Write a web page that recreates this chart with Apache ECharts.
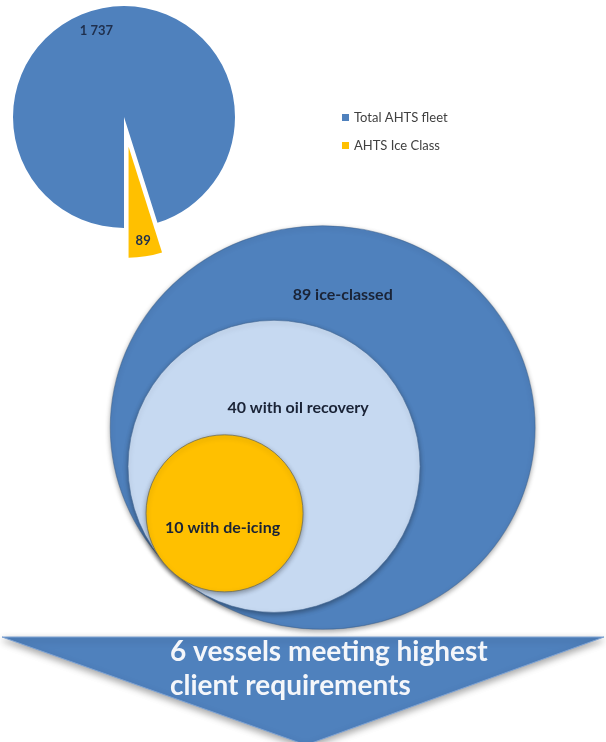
<!DOCTYPE html>
<html>
<head>
<meta charset="utf-8">
<script src="https://cdn.jsdelivr.net/npm/echarts@6/dist/echarts.min.js"></script>
<style>
  html, body { margin: 0; padding: 0; background: #ffffff; }
  #chart { width: 606px; height: 742px; }
</style>
</head>
<body>
<div id="chart"></div>
<script>
// AHTS fleet split shown in the pie
const fleetNames = ['Total AHTS fleet', 'AHTS Ice Class'];
const fleetValues = [1737, 89];

// Nested capability circles, outer to inner
const stageNames = ['ice-classed', 'with oil recovery', 'with de-icing'];
const stageValues = [89, 40, 10];

// Vessels that meet every requirement
const finalCount = 6;
const finalLines = ['vessels meeting highest', 'client requirements'];

const W = 606, H = 742;
const BLUE = '#4F81BD';
const LIGHT = '#C6D9F1';
const YELLOW = '#FFC000';
const FONT = 'Lato, "Open Sans", sans-serif';

// thousands with a space separator: 1737 -> "1 737"
function fmt(v) {
  return String(v).replace(/\B(?=(\d{3})+(?!\d))/g, ' ');
}

// circle diameter grows with the square root of the count
function diameter(v) { return 42.7 * Math.sqrt(v) + 22; }
// the outer circle is drawn slightly flattened
const squash = [0.95, 1, 1];
// every circle touches the next at a shared point toward the lower left
const touch = [167, 568];
const dir = [-0.733, 0.696];
const circleColors = [BLUE, LIGHT, YELLOW];
const circleBorders = ['rgba(60,95,140,0.5)', 'rgba(70,105,150,0.6)', 'rgba(110,110,90,0.8)'];
const labelOffsets = [[20, -133], [24, -59], [-2, 14]];

const circleData = stageValues.map(function (v, i) {
  const d = diameter(v);
  return {
    name: stageNames[i],
    value: [touch[0] - d / 2 * dir[0], touch[1] - d / 2 * squash[i] * dir[1], v],
    itemStyle: { color: circleColors[i], borderColor: circleBorders[i] },
    label: { offset: labelOffsets[i] }
  };
});

function pieData(hidden) {
  return fleetNames.map(function (n, i) {
    return {
      name: n,
      value: fleetValues[i],
      selected: i === 1,
      itemStyle: hidden ? { color: 'rgba(0,0,0,0)' } : { color: i === 0 ? BLUE : YELLOW }
    };
  });
}

const chart = echarts.init(document.getElementById('chart'), null, { renderer: 'canvas' });

chart.setOption({
  backgroundColor: '#ffffff',
  animation: false,
  textStyle: { fontFamily: FONT },
  legend: {
    data: fleetNames,
    orient: 'vertical',
    left: 342,
    top: 111,
    padding: 0,
    itemWidth: 7,
    itemHeight: 7,
    itemGap: 15,
    icon: 'rect',
    selectedMode: false,
    textStyle: { fontFamily: FONT, fontSize: 13, color: '#404040' }
  },
  grid: { left: 0, right: 0, top: 0, bottom: 0 },
  xAxis: { type: 'value', min: 0, max: W, show: false },
  yAxis: { type: 'value', min: 0, max: H, inverse: true, show: false },
  series: [
    {
      type: 'pie',
      center: [124, 117],
      radius: 111,
      startAngle: 270,
      clockwise: true,
      selectedMode: 'single',
      selectedOffset: 30,
      silent: true,
      emphasis: { disabled: true },
      label: { show: false },
      labelLine: { show: false },
      data: pieData(false)
    },
    {
      // label ring placed over the pie
      type: 'pie',
      center: [124, 117],
      radius: [80, 105],
      startAngle: 270,
      clockwise: true,
      selectedMode: 'single',
      selectedOffset: 30,
      silent: true,
      emphasis: { disabled: true },
      labelLine: { show: false },
      label: {
        show: true,
        position: 'inside',
        formatter: function (p) { return fmt(p.value); },
        fontFamily: FONT,
        fontWeight: 'bold',
        fontSize: 13,
        color: '#1F2F4D'
      },
      labelLayout: function (p) {
        return p.dataIndex === 0 ? { dx: -13, dy: 8 } : { fontSize: 13 };
      },
      data: pieData(true)
    },
    {
      type: 'scatter',
      silent: true,
      emphasis: { disabled: true },
      symbol: 'circle',
      symbolSize: function (val, p) {
        const d = diameter(val[2]);
        return [d, d * squash[p.dataIndex]];
      },
      itemStyle: {
        opacity: 1,
        borderWidth: 1,
        shadowBlur: 5,
        shadowOffsetY: 2,
        shadowColor: 'rgba(0,0,0,0.35)'
      },
      label: {
        show: true,
        position: 'inside',
        formatter: function (p) { return p.value[2] + ' ' + p.name; },
        fontFamily: FONT,
        fontWeight: 'bold',
        fontSize: 16,
        color: '#1A2336'
      },
      data: circleData
    }
  ],
  graphic: [
    {
      type: 'polygon',
      z: 10,
      shape: { points: [[2, 637], [604, 637], [306, 745]] },
      style: {
        fill: BLUE,
        stroke: '#7FA3D3',
        lineWidth: 1,
        shadowBlur: 7,
        shadowOffsetY: 3,
        shadowColor: 'rgba(0,0,0,0.35)'
      }
    },
    {
      type: 'text',
      z: 11,
      x: 170,
      y: 635,
      style: {
        text: finalCount + ' ' + finalLines[0] + '\n' + finalLines[1],
        fill: '#F4F6FA',
        font: 'bold 28px ' + FONT,
        lineHeight: 34,
        verticalAlign: 'top'
      }
    }
  ]
});
</script>
</body>
</html>
